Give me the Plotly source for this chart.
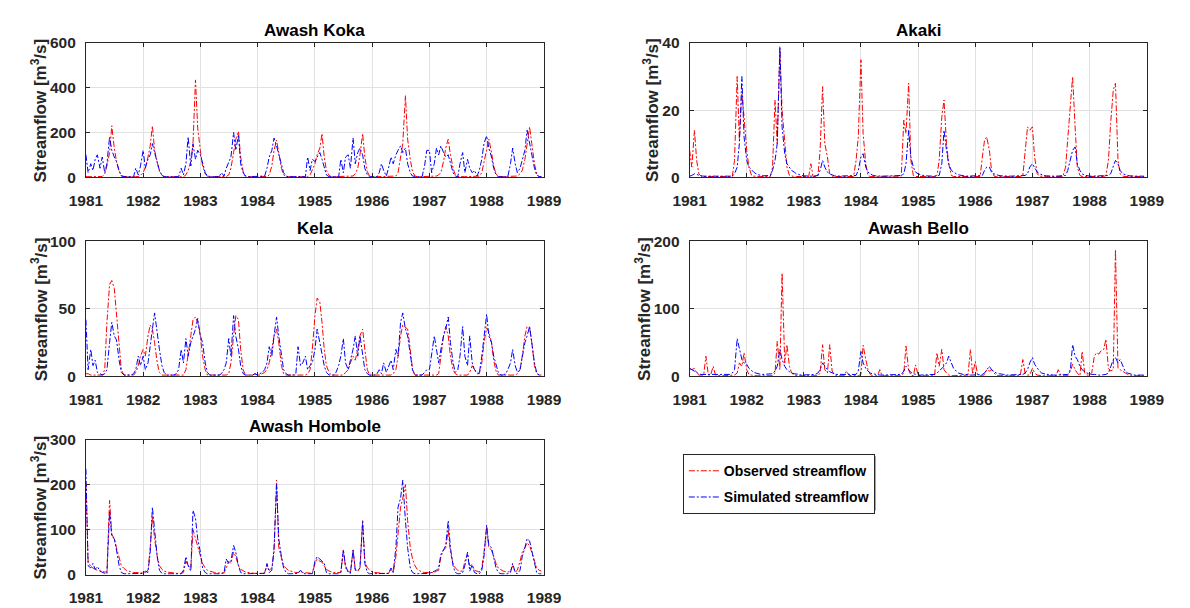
import pandas as pd
import plotly.graph_objects as go

# ---------------- data (semi-monthly readings, 1981-1988) ----------------
dates = pd.date_range("1981-01-01", periods=192, freq="SMS")

koka_obs = [
    2, 2, 2, 2, 2, 2, 2, 3, 15, 50, 110, 230, 130, 70, 25, 8, 3, 2, 2, 2, 2, 2, 3, 8,
    20, 45, 90, 140, 230, 120, 60, 25, 8, 3, 2, 2, 2, 2, 2, 2, 2, 2, 10, 30, 70, 150, 435, 220,
    120, 50, 15, 4, 2, 2, 2, 2, 2, 2, 2, 3, 10, 40, 110, 170, 205, 90, 25, 5, 2, 2, 2, 2,
    2, 2, 2, 2, 3, 10, 50, 120, 165, 110, 40, 10, 3, 2, 2, 2, 2, 2, 2, 2, 2, 2, 10, 30,
    60, 100, 130, 195, 90, 30, 8, 2, 2, 2, 2, 2, 2, 2, 2, 2, 5, 15, 40, 100, 195, 90, 25, 5,
    2, 2, 2, 2, 2, 2, 2, 2, 2, 2, 5, 20, 80, 150, 365, 170, 80, 25, 5, 2, 2, 2, 2, 2,
    2, 2, 2, 5, 10, 20, 70, 130, 170, 100, 40, 10, 3, 2, 2, 2, 2, 2, 2, 2, 2, 5, 20, 70,
    120, 170, 110, 50, 15, 3, 2, 2, 2, 2, 2, 2, 2, 5, 15, 30, 80, 140, 225, 150, 60, 15, 3, 2,
]
koka_sim = [
    100, 20, 60, 30, 80, 100, 40, 90, 20, 60, 180, 120, 90, 70, 30, 5, 2, 2, 2, 2, 2, 40, 10, 50,
    120, 40, 80, 100, 150, 110, 70, 30, 8, 2, 2, 2, 2, 2, 2, 2, 40, 10, 60, 180, 50, 150, 80, 120,
    100, 60, 20, 5, 2, 2, 2, 2, 2, 20, 5, 40, 70, 90, 200, 120, 190, 60, 20, 5, 2, 2, 2, 2,
    2, 2, 2, 5, 40, 90, 120, 175, 140, 100, 60, 20, 5, 2, 2, 2, 2, 2, 2, 2, 2, 90, 30, 80,
    70, 90, 110, 80, 40, 10, 2, 2, 2, 2, 2, 80, 20, 90, 100, 40, 175, 60, 110, 130, 100, 40, 10, 2,
    2, 2, 2, 20, 60, 30, 5, 40, 90, 60, 100, 120, 140, 110, 130, 60, 20, 5, 2, 2, 2, 2, 50, 120,
    120, 20, 60, 130, 100, 140, 110, 90, 100, 60, 20, 5, 2, 60, 110, 20, 80, 40, 20, 30, 5, 30, 80, 150,
    185, 130, 90, 40, 10, 2, 2, 2, 2, 2, 60, 130, 60, 20, 40, 80, 120, 210, 150, 90, 40, 10, 2, 2,
]

akaki_obs = [
    8, 3, 14, 5, 1, 0.3, 0.2, 0.2, 0.2, 0.2, 0.2, 0.2, 0.2, 0.2, 0.2, 0.2, 0.2, 0.2, 0.2, 5, 30, 11, 25, 18,
    8, 3, 0.5, 0.3, 0.2, 0.2, 0.2, 0.2, 0.2, 0.2, 0.2, 3, 23, 10, 38, 20, 11, 3, 0.5, 0.3, 0.2, 0.2, 0.2, 0.2,
    0.2, 0.2, 0.2, 4, 0.2, 0.2, 0.3, 8, 27, 10, 6, 1, 0.3, 0.2, 0.2, 0.2, 0.2, 0.2, 0.2, 0.2, 0.2, 0.2, 5, 12,
    35, 13, 4, 0.5, 0.2, 0.2, 0.2, 0.2, 0.2, 0.2, 0.2, 0.2, 0.2, 0.2, 0.2, 0.2, 0.2, 0.3, 17, 13, 28, 5, 0.5, 0.2,
    0.2, 0.2, 0.2, 0.2, 0.2, 0.2, 0.2, 0.2, 0.5, 5, 18, 23, 10, 4, 0.5, 0.2, 0.2, 0.2, 0.2, 0.2, 0.2, 0.2, 0.2, 0.2,
    0.2, 0.2, 0.2, 6, 11, 12, 8, 2, 0.3, 0.2, 0.2, 0.2, 0.2, 0.2, 0.2, 0.2, 0.2, 0.2, 0.2, 0.2, 0.5, 8, 15, 14,
    15, 6, 1, 0.3, 0.2, 0.2, 0.2, 0.2, 0.2, 0.2, 0.2, 0.2, 0.2, 0.2, 3, 12, 20, 30, 15, 3, 0.5, 0.2, 0.2, 0.2,
    0.2, 0.2, 0.2, 0.2, 0.2, 0.2, 0.2, 0.5, 5, 16, 26, 28, 5, 1, 0.3, 0.2, 0.2, 0.2, 0.2, 0.2, 0.2, 0.2, 0.2, 0.2,
]
akaki_sim = [
    0.3, 0.5, 1, 0.8, 0.5, 0.4, 0.3, 0.3, 0.3, 0.3, 0.3, 0.3, 0.3, 0.3, 0.3, 0.3, 0.3, 0.3, 0.3, 1, 3, 10, 30, 12,
    5, 3, 2, 1.5, 1, 0.7, 0.5, 0.4, 0.4, 0.4, 0.5, 2, 5, 10, 39, 15, 7, 4, 3, 2, 1.5, 1, 0.8, 0.5,
    0.4, 0.3, 0.3, 0.3, 0.3, 0.3, 0.5, 2, 5, 3, 1.5, 1, 0.6, 0.4, 0.3, 0.3, 0.3, 0.3, 0.3, 0.3, 0.3, 0.3, 0.5, 2,
    6, 7, 3, 1.5, 1, 0.6, 0.4, 0.3, 0.3, 0.3, 0.3, 0.3, 0.3, 0.3, 0.3, 0.3, 0.3, 0.5, 1, 4, 14, 6, 3, 1.5,
    1, 0.7, 0.5, 0.4, 0.3, 0.3, 0.3, 0.3, 0.3, 0.5, 4, 14, 8, 4, 2, 1.5, 1, 0.7, 0.5, 0.4, 0.3, 0.3, 0.3, 0.3,
    0.3, 0.3, 0.3, 0.5, 2, 3, 3, 1.5, 1, 0.7, 0.5, 0.4, 0.3, 0.3, 0.3, 0.3, 0.3, 0.3, 0.3, 0.3, 0.3, 0.5, 1, 3,
    4, 3, 1.5, 1, 0.7, 0.5, 0.4, 0.3, 0.3, 0.3, 0.3, 0.3, 0.3, 0.3, 0.5, 2, 5, 8, 9, 4, 2, 1, 0.6, 0.4,
    0.3, 0.3, 0.3, 0.3, 0.3, 0.3, 0.3, 0.3, 0.5, 1, 3, 5, 4, 2, 1, 0.7, 0.5, 0.4, 0.3, 0.3, 0.3, 0.3, 0.3, 0.3,
]

kela_obs = [
    2, 2, 1, 1, 1, 1, 1, 1, 5, 40, 68, 71, 65, 45, 20, 5, 1, 1, 1, 1, 1, 3, 8, 15,
    20, 15, 30, 38, 35, 25, 10, 3, 1, 1, 1, 1, 1, 1, 1, 1, 1, 1, 5, 15, 30, 42, 44, 40,
    30, 15, 5, 1, 1, 1, 1, 1, 1, 1, 1, 1, 2, 10, 30, 45, 42, 20, 5, 1, 1, 1, 1, 2,
    1, 1, 2, 3, 5, 10, 20, 30, 35, 25, 8, 2, 1, 1, 1, 1, 1, 1, 1, 1, 1, 2, 5, 20,
    45, 58, 55, 40, 20, 8, 3, 1, 1, 1, 1, 1, 1, 3, 5, 10, 15, 12, 20, 30, 35, 20, 5, 1,
    1, 1, 1, 1, 1, 1, 1, 1, 1, 2, 5, 15, 30, 38, 36, 35, 20, 5, 1, 1, 1, 1, 1, 1,
    1, 1, 1, 1, 2, 15, 30, 37, 30, 15, 5, 2, 1, 1, 1, 1, 1, 3, 8, 5, 2, 2, 10, 25,
    36, 33, 25, 12, 4, 1, 1, 1, 1, 1, 1, 1, 1, 2, 5, 15, 30, 37, 36, 25, 8, 2, 1, 1,
]
kela_sim = [
    42, 5, 20, 8, 12, 3, 2, 1, 2, 5, 25, 40, 30, 27, 12, 3, 1, 1, 1, 1, 2, 5, 15, 8,
    15, 5, 10, 25, 35, 47, 30, 20, 8, 3, 1, 1, 1, 1, 2, 5, 20, 10, 28, 15, 25, 30, 35, 43,
    30, 25, 10, 3, 1, 1, 1, 1, 1, 2, 5, 10, 28, 15, 45, 30, 20, 8, 2, 1, 1, 1, 1, 2,
    1, 2, 3, 5, 10, 22, 15, 30, 44, 30, 15, 5, 2, 1, 1, 1, 2, 22, 8, 10, 15, 5, 8, 10,
    20, 35, 25, 15, 8, 3, 1, 1, 1, 3, 8, 15, 28, 10, 5, 12, 20, 30, 15, 30, 15, 5, 2, 1,
    1, 1, 2, 5, 2, 10, 3, 8, 12, 5, 20, 15, 40, 47, 35, 30, 15, 5, 1, 1, 1, 1, 3, 5,
    5, 15, 30, 20, 10, 20, 30, 35, 44, 25, 10, 3, 5, 15, 37, 15, 8, 30, 10, 5, 3, 2, 15, 30,
    46, 30, 25, 15, 8, 3, 1, 1, 2, 5, 10, 20, 8, 3, 5, 15, 25, 30, 37, 25, 10, 3, 1, 1,
]

bello_obs = [
    12, 10, 12, 5, 2, 2, 2, 30, 2, 2, 15, 2, 1, 1, 1, 1, 1, 1, 1, 2, 5, 20, 15, 35,
    10, 3, 2, 1, 1, 1, 1, 1, 1, 1, 1, 1, 5, 52, 10, 153, 20, 47, 15, 5, 2, 1, 1, 1,
    1, 1, 1, 1, 1, 1, 1, 5, 47, 10, 5, 47, 8, 3, 1, 1, 1, 1, 8, 2, 1, 1, 1, 1,
    3, 46, 25, 10, 3, 1, 1, 1, 10, 1, 1, 1, 1, 1, 1, 1, 1, 1, 5, 45, 10, 2, 1, 17,
    2, 1, 1, 1, 1, 1, 1, 1, 35, 15, 40, 10, 5, 2, 1, 1, 1, 1, 1, 1, 1, 2, 40, 3,
    22, 3, 1, 1, 3, 10, 8, 10, 5, 2, 1, 1, 1, 1, 1, 1, 1, 1, 1, 1, 25, 5, 2, 2,
    12, 5, 2, 1, 1, 1, 1, 1, 1, 1, 1, 10, 2, 1, 1, 1, 8, 18, 10, 5, 1, 37, 5, 2,
    2, 5, 30, 35, 33, 38, 40, 55, 12, 8, 10, 188, 12, 10, 8, 5, 3, 2, 1, 1, 1, 1, 1, 1,
]
bello_sim = [
    12, 10, 8, 5, 4, 3, 3, 2, 2, 2, 2, 2, 2, 2, 2, 2, 2, 3, 5, 10, 56, 40, 25, 20,
    18, 12, 8, 6, 5, 4, 3, 3, 3, 3, 3, 4, 8, 15, 40, 25, 15, 10, 7, 5, 4, 3, 3, 2,
    2, 2, 2, 2, 2, 3, 5, 10, 20, 15, 10, 7, 5, 4, 3, 3, 2, 2, 2, 2, 2, 2, 3, 8,
    37, 20, 12, 8, 5, 4, 3, 3, 2, 2, 2, 2, 2, 2, 2, 2, 2, 3, 8, 15, 10, 6, 4, 3,
    2, 2, 2, 2, 2, 2, 2, 3, 5, 8, 12, 15, 20, 30, 20, 12, 8, 5, 4, 3, 3, 2, 2, 2,
    2, 2, 2, 3, 5, 10, 15, 10, 7, 5, 4, 3, 3, 2, 2, 2, 2, 2, 2, 2, 3, 5, 10, 20,
    28, 18, 12, 8, 5, 4, 3, 3, 2, 2, 2, 2, 2, 2, 2, 3, 10, 47, 30, 25, 15, 10, 7, 5,
    4, 3, 3, 2, 2, 2, 2, 3, 5, 15, 25, 28, 20, 25, 15, 8, 5, 4, 3, 2, 2, 2, 2, 2,
]

hombole_obs = [
    200, 30, 18, 14, 12, 10, 8, 7, 6, 6, 165, 90, 80, 60, 35, 20, 14, 10, 8, 6, 5, 5, 4, 4,
    4, 5, 10, 60, 130, 80, 40, 20, 12, 8, 6, 5, 4, 3, 3, 3, 3, 5, 30, 20, 15, 100, 80, 60,
    40, 25, 15, 10, 8, 6, 5, 4, 4, 4, 4, 15, 30, 25, 50, 40, 20, 12, 8, 6, 5, 4, 4, 3,
    3, 3, 3, 5, 20, 10, 15, 50, 210, 60, 35, 20, 14, 10, 8, 6, 5, 5, 8, 5, 4, 4, 3, 3,
    25, 35, 30, 28, 20, 12, 8, 6, 5, 5, 5, 5, 55, 15, 8, 5, 55, 12, 8, 15, 120, 30, 15, 10,
    6, 5, 4, 4, 3, 3, 3, 3, 12, 5, 40, 100, 150, 170, 200, 120, 60, 35, 20, 12, 8, 6, 5, 5,
    4, 4, 5, 8, 10, 40, 55, 60, 100, 50, 25, 15, 10, 8, 8, 30, 45, 20, 22, 10, 8, 6, 15, 50,
    105, 60, 55, 40, 25, 15, 10, 8, 7, 6, 8, 20, 6, 10, 30, 50, 60, 70, 65, 50, 30, 15, 10, 8,
]
hombole_sim = [
    235, 20, 15, 25, 12, 18, 8, 5, 3, 2, 140, 85, 80, 55, 20, 5, 2, 2, 2, 2, 2, 3, 2, 2,
    3, 8, 5, 50, 150, 100, 40, 10, 3, 2, 2, 2, 2, 2, 2, 2, 2, 10, 40, 20, 8, 143, 125, 80,
    50, 15, 5, 2, 2, 2, 2, 2, 2, 2, 5, 35, 25, 30, 65, 50, 20, 5, 2, 2, 2, 2, 2, 2,
    2, 2, 2, 3, 25, 5, 10, 60, 200, 80, 40, 15, 5, 2, 2, 2, 2, 3, 10, 3, 2, 2, 2, 2,
    30, 40, 35, 30, 25, 5, 2, 2, 2, 2, 2, 5, 55, 20, 5, 3, 55, 10, 10, 15, 118, 25, 5, 2,
    2, 2, 2, 2, 2, 2, 2, 3, 15, 5, 60, 150, 170, 210, 120, 60, 15, 5, 2, 2, 2, 2, 2, 2,
    3, 5, 8, 10, 15, 45, 55, 65, 120, 60, 20, 5, 2, 2, 5, 20, 50, 8, 22, 5, 2, 2, 10, 40,
    110, 65, 60, 40, 15, 5, 2, 2, 2, 2, 5, 25, 5, 2, 10, 40, 60, 80, 75, 55, 25, 5, 2, 2,
]

station_names = ["Awash Koka", "Akaki", "Kela", "Awash Bello", "Awash Hombole"]
observed = [koka_obs, akaki_obs, kela_obs, bello_obs, hombole_obs]
simulated = [koka_sim, akaki_sim, kela_sim, bello_sim, hombole_sim]
y_max = [600, 40, 100, 200, 300]
y_step = [200, 20, 50, 100, 100]

# ---------------- layout geometry (pixels) ----------------
W, H = 1190, 608
col_x = [(71, 543), (693, 1164)]
row_y = [(35, 173), (239, 378), (443, 582)]
panel_pos = [(0, 0), (0, 1), (1, 0), (1, 1), (2, 0)]
ylab_gap = [48, 40, 48, 48, 48]

FONT = "Liberation Sans, Arial, Helvetica, sans-serif"
AXC = "#262626"
GRID = "#e2e2e2"
TICK_SIZE = 15.5

fig = go.Figure()
annotations = []
layout_axes = {}

for k, name in enumerate(station_names):
    r, c = panel_pos[k]
    x0, x1 = col_x[c]
    yt, yb = row_y[r]
    sfx = "" if k == 0 else str(k + 1)
    xa, ya = "x" + sfx, "y" + sfx

    fig.add_trace(go.Scatter(
        x=dates, y=observed[k], mode="lines", name="Observed streamflow",
        line=dict(color="#ff0000", width=1, dash="6px,2px,2px,2px"),
        xaxis=xa, yaxis=ya, showlegend=(k == 0), legendgroup="obs"))
    fig.add_trace(go.Scatter(
        x=dates, y=simulated[k], mode="lines", name="Simulated streamflow",
        line=dict(color="#0000ff", width=1, dash="6px,2px,2px,2px"),
        xaxis=xa, yaxis=ya, showlegend=(k == 0), legendgroup="sim"))

    layout_axes["xaxis" + sfx] = dict(
        domain=[x0 / W, x1 / W], anchor=ya, type="date",
        range=["1981-01-01", "1989-01-01"], tick0="1981-01-01", dtick="M12",
        tickformat="%Y", showgrid=True, gridcolor=GRID, gridwidth=1,
        showline=True, linecolor=AXC, linewidth=1, mirror="ticks",
        ticks="inside", ticklen=4, tickcolor=AXC, zeroline=False,
        ticklabelstandoff=9,
        tickfont=dict(family=FONT, size=TICK_SIZE, color=AXC, weight="bold"))
    layout_axes["yaxis" + sfx] = dict(
        domain=[1 - yb / H, 1 - yt / H], anchor=xa,
        range=[0, y_max[k]], tick0=0, dtick=y_step[k],
        showgrid=True, gridcolor=GRID, gridwidth=1,
        showline=True, linecolor=AXC, linewidth=1, mirror="ticks",
        ticks="inside", ticklen=4, tickcolor=AXC, zeroline=False,
        ticklabelstandoff=6,
        tickfont=dict(family=FONT, size=TICK_SIZE, color=AXC, weight="bold"))

    annotations.append(dict(
        text=name, x=(x0 + x1) / 2 / W, y=1 - (yt - 13) / H,
        xref="paper", yref="paper", xanchor="center", yanchor="middle",
        showarrow=False, font=dict(family=FONT, size=17, color="#000000", weight="bold")))
    annotations.append(dict(
        text="Streamflow [m<sup>3</sup>/s]", x=(x0 - ylab_gap[k]) / W,
        y=1 - (yt + yb) / 2 / H, xref="paper", yref="paper",
        xanchor="center", yanchor="middle", textangle=-90, showarrow=False,
        font=dict(family=FONT, size=17, color=AXC, weight="bold")))

# legend drop shadow (MATLAB style)
shapes = [dict(type="rect", xref="paper", yref="paper", layer="below",
               x0=688 / W, x1=885 / W, y0=1 - 516 / H, y1=1 - 460 / H,
               fillcolor="#a0a0a0", line=dict(width=0))]

fig.update_layout(
    width=W, height=H, margin=dict(l=0, r=0, t=0, b=0),
    paper_bgcolor="white", plot_bgcolor="white",
    annotations=annotations, shapes=shapes,
    showlegend=True,
    legend=dict(
        x=686 / W, y=1 - 458 / H, xanchor="left", yanchor="top",
        bgcolor="white", bordercolor=AXC, borderwidth=1,
        tracegroupgap=5,
        font=dict(family=FONT, size=14, color="#000000", weight="bold")),
    **layout_axes,
)

fig.write_html("out.html")
